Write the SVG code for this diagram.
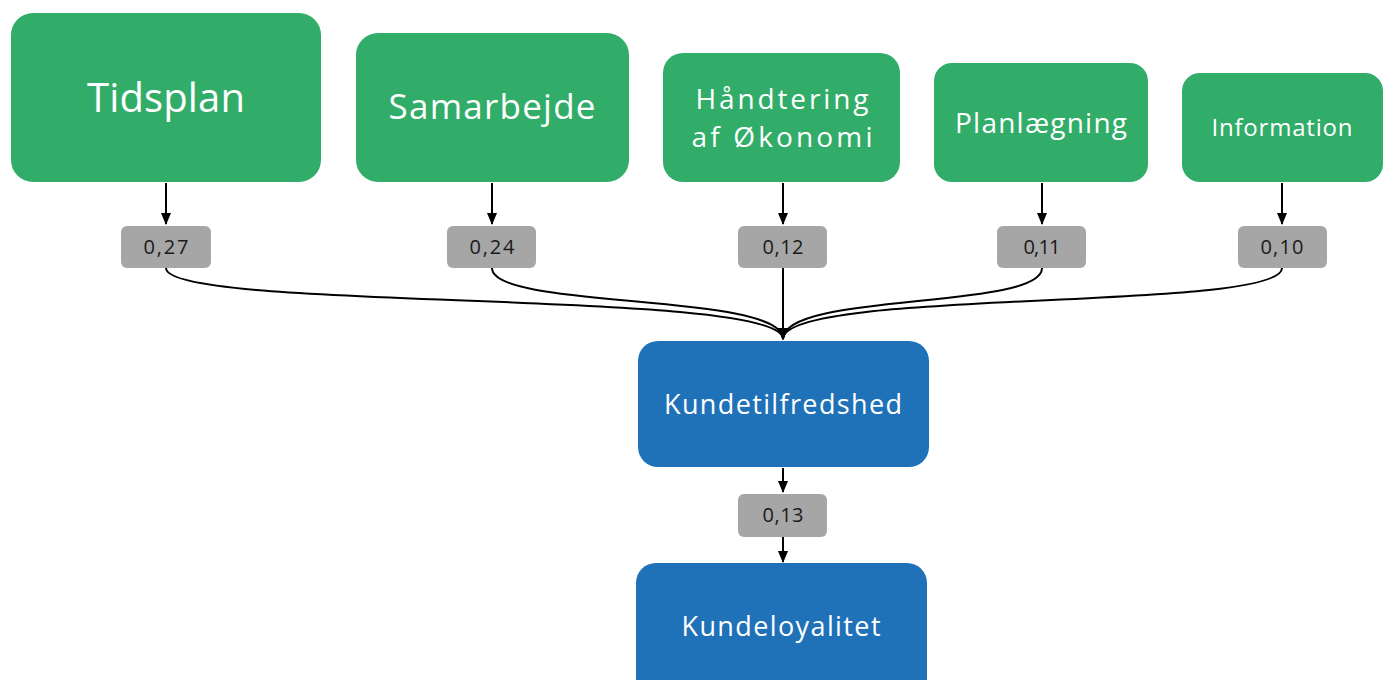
<svg xmlns="http://www.w3.org/2000/svg" width="1387" height="680" viewBox="0 0 1387 680">
<defs>
<style>
.g{fill:#31AD69}
.b{fill:#1F71B8}
.w{fill:#A6A6A6}
.t{fill:#fff;font-family:"Open Sans","Liberation Sans",sans-serif;text-anchor:middle}
.n{fill:#1a1a1a;font-family:"Open Sans","Liberation Sans",sans-serif;text-anchor:middle;font-size:20px}
.c{fill:none;stroke:#000;stroke-width:2}
</style>
<marker id="ah2" markerWidth="12" markerHeight="12" refX="11" refY="6" orient="auto" markerUnits="userSpaceOnUse" viewBox="0 0 12 12">
<path d="M0,1 L12,6 L0,11 z" fill="#000"/>
</marker>
</defs>
<g id="connectors">
<path class="c" d="M166,183 V224" marker-end="url(#ah2)"/>
<path class="c" d="M492,183 V224" marker-end="url(#ah2)"/>
<path class="c" d="M783,183 V224" marker-end="url(#ah2)"/>
<path class="c" d="M1042,183 V224" marker-end="url(#ah2)"/>
<path class="c" d="M1282,183 V224" marker-end="url(#ah2)"/>
<path class="c" d="M166,268 C166,312 783,288 783,339" marker-end="url(#ah2)"/>
<path class="c" d="M492,268 C492,310 783,292 783,339" marker-end="url(#ah2)"/>
<path class="c" d="M783,268 V339" marker-end="url(#ah2)"/>
<path class="c" d="M1042,268 C1042,310 783,292 783,339" marker-end="url(#ah2)"/>
<path class="c" d="M1282,268 C1282,312 783,288 783,339" marker-end="url(#ah2)"/>
<path class="c" d="M783,468 V492" marker-end="url(#ah2)"/>
<path class="c" d="M783,537 V562" marker-end="url(#ah2)"/>
</g>
<g id="tidsplan"><rect class="g" x="11" y="13" width="310" height="169" rx="22"/><text class="t" x="166" y="112" font-size="40" textLength="158" lengthAdjust="spacing">Tidsplan</text></g>
<g id="samarbejde"><rect class="g" x="356" y="33" width="273" height="149" rx="22"/><text class="t" x="492" y="119" font-size="35" textLength="207" lengthAdjust="spacing">Samarbejde</text></g>
<g id="haandtering"><rect class="g" x="663" y="53" width="237" height="129" rx="20"/><text class="t" x="782" y="109" font-size="28" textLength="173" lengthAdjust="spacing">Håndtering</text><text class="t" x="782" y="147" font-size="28" textLength="181" lengthAdjust="spacing">af Økonomi</text></g>
<g id="planlaegning"><rect class="g" x="934" y="63" width="214" height="119" rx="18"/><text class="t" x="1041" y="133" font-size="28" textLength="172" lengthAdjust="spacing">Planlægning</text></g>
<g id="information"><rect class="g" x="1182" y="73" width="201" height="109" rx="18"/><text class="t" x="1282" y="136" font-size="24" textLength="141" lengthAdjust="spacing">Information</text></g>
<g id="w027"><rect class="w" x="121" y="226" width="90" height="42" rx="6"/><text class="n" x="166" y="254" textLength="45" lengthAdjust="spacing">0,27</text></g>
<g id="w024"><rect class="w" x="447" y="226" width="89" height="42" rx="6"/><text class="n" x="492" y="254" textLength="45" lengthAdjust="spacing">0,24</text></g>
<g id="w012"><rect class="w" x="738" y="226" width="89" height="42" rx="6"/><text class="n" x="783" y="254" textLength="41" lengthAdjust="spacing">0,12</text></g>
<g id="w011"><rect class="w" x="997" y="226" width="89" height="42" rx="6"/><text class="n" x="1042" y="254" textLength="37" lengthAdjust="spacing">0,11</text></g>
<g id="w010"><rect class="w" x="1238" y="226" width="89" height="42" rx="6"/><text class="n" x="1282" y="254" textLength="43" lengthAdjust="spacing">0,10</text></g>
<g id="kundetilfredshed"><rect class="b" x="638" y="341" width="291" height="126" rx="20"/><text class="t" x="783" y="414" font-size="27" textLength="238" lengthAdjust="spacing">Kundetilfredshed</text></g>
<g id="w013"><rect class="w" x="738" y="494" width="89" height="43" rx="6"/><text class="n" x="783" y="522" textLength="41" lengthAdjust="spacing">0,13</text></g>
<g id="kundeloyalitet"><rect class="b" x="636" y="563" width="291" height="140" rx="20"/><text class="t" x="781" y="636" font-size="27" textLength="199" lengthAdjust="spacing">Kundeloyalitet</text></g>
</svg>
